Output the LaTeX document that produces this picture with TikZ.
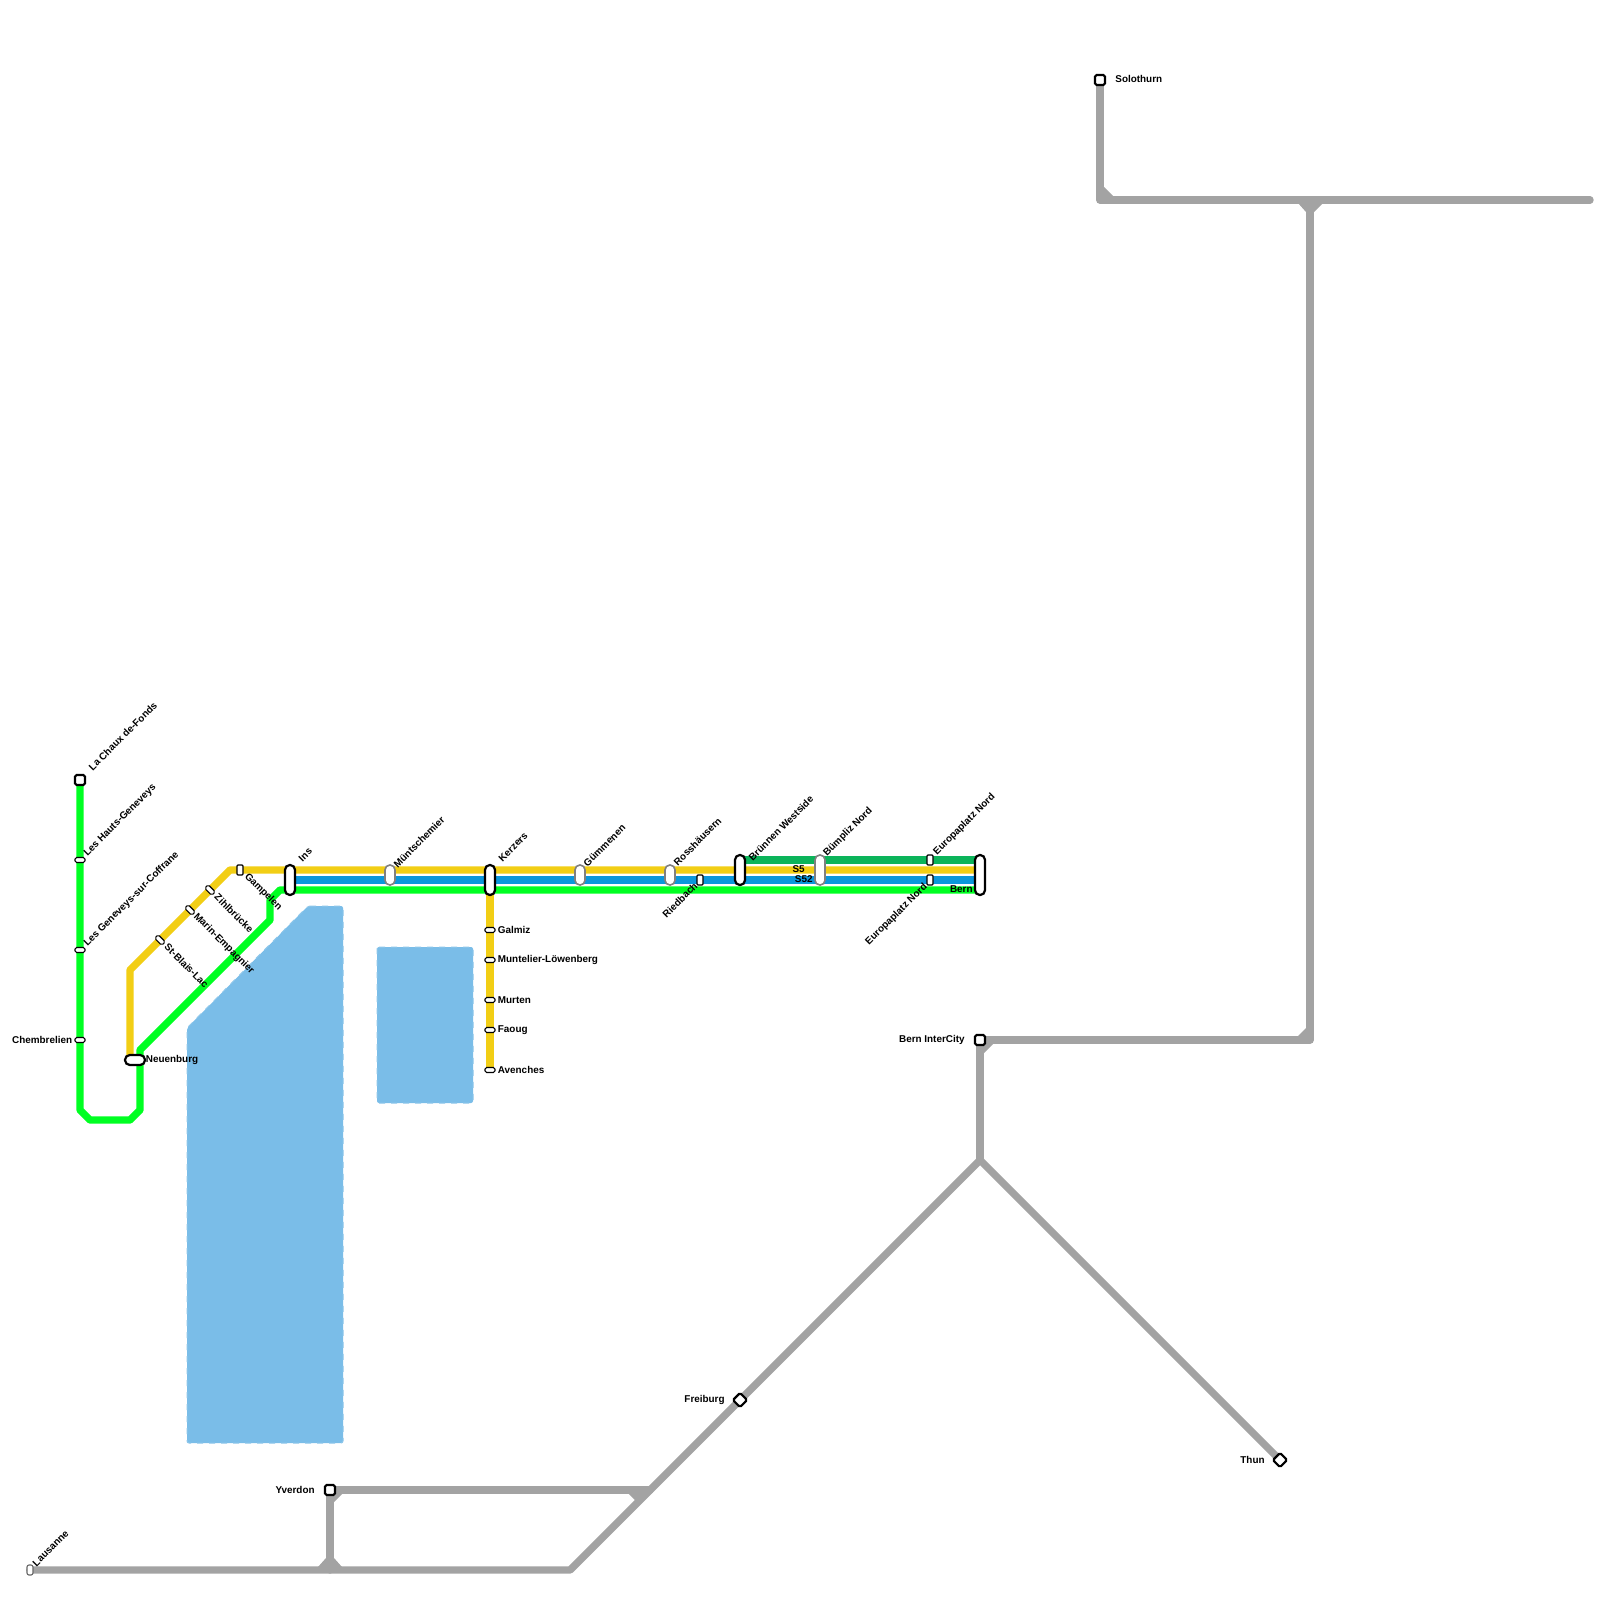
\documentclass[tikz,border=0pt]{standalone}
\usepackage{fontspec}
\setmainfont{Liberation Sans}
\begin{document}
\begin{tikzpicture}[x=0.5pt,y=-0.5pt,
  track/.style={line width=3.7pt,line join=bevel},
  greenline/.style={track,draw=lgreen},
  yellowline/.style={track,draw=lyellow},
  blueline/.style={track,draw=lblue},
  dgreenline/.style={track,draw=ldgreen},
  greyline/.style={track,draw=lgrey,line cap=round,line join=round},
  fillet/.style={fill=lgrey,draw=none},
  water/.style={fill=lake,draw=lake!85!white,line width=0.5pt,dash pattern=on 3pt off 3pt,rounded corners=1pt},
  sta/.style={draw=black,fill=white,inner sep=0pt,outer sep=0pt,line width=#1},
  sta/.default=1.1pt,
  term/.style={sta,minimum width=5pt,minimum height=5pt,rounded corners=0.8pt},
  small/.style={sta=0.55pt,minimum width=5pt,minimum height=2.5pt,rounded corners=0.8pt},
  tallsmall/.style={sta=0.55pt,minimum width=3pt,minimum height=5pt,rounded corners=0.5pt},
  angsmall/.style={small,rotate=-45},
  pilla/.style={sta,minimum width=5pt,minimum height=15pt,rounded corners=2.4pt},
  pillb/.style={sta=0.8pt,draw=black!50,minimum width=5pt,minimum height=10pt,rounded corners=2.4pt},
  diam/.style={sta,minimum width=5pt,minimum height=5pt,rounded corners=0.7pt,rotate=45},
  lab/.style={font=\fontsize{4.95}{6}\selectfont\bfseries,inner sep=0pt,text=black},
  ur/.style={lab,rotate=45,anchor=west},
  dr/.style={lab,rotate=-45,anchor=west},
  ul/.style={lab,rotate=45,anchor=east},
  le/.style={lab,anchor=east},
  ri/.style={lab,anchor=west}]
\definecolor{lgreen}{HTML}{00FF22}
\definecolor{lyellow}{HTML}{F2CE15}
\definecolor{lblue}{HTML}{0A97DB}
\definecolor{ldgreen}{HTML}{0BB45A}
\definecolor{lgrey}{HTML}{A3A3A3}
\definecolor{lake}{HTML}{7ABDE8}
\useasboundingbox (0,0) rectangle (1600,1600);
\fill[white] (0,0) rectangle (1600,1600);
% lakes
\draw[water] (308,906) -- (343,906) -- (343,1443) -- (187,1443) -- (187,1028) -- cycle;
\draw[water] (377,947) -- (473,947) -- (473,1103) -- (377,1103) -- cycle;
% bends and junctions
\coordinate (jA) at (570,1570);
\coordinate (jB) at (980,1160);
\coordinate (jC) at (650,1490);
\coordinate (jD) at (330,1570);
\coordinate (jE) at (1310,1040);
\coordinate (jF) at (1310,200);
\coordinate (jG) at (1100,200);
\coordinate (jH) at (1590,200);
\coordinate (pA) at (130,970);
\coordinate (pB) at (230,870);
\coordinate (pC) at (80,1110);
\coordinate (pD) at (90,1120);
\coordinate (pE) at (130,1120);
\coordinate (pF) at (140,1110);
\coordinate (pG) at (140,1050);
\coordinate (pH) at (270,920);
\coordinate (pI) at (270,900);
\coordinate (pJ) at (280,890);
\coordinate (eN) at (130,1060);
\coordinate (gA) at (290,890);
\coordinate (gB) at (980,890);
\coordinate (yA) at (980,870);
\coordinate (bA) at (290,880);
\coordinate (bB) at (980,880);
\coordinate (dA) at (740,860);
\coordinate (dB) at (980,860);
\coordinate (yD) at (490,880);
\coordinate (aven0) at (490,1070);
\coordinate (chaux0) at (80,780);
\coordinate (laus0) at (30,1570);
\coordinate (thun0) at (1280,1460);
\coordinate (bic0) at (980,1040);
\coordinate (yver0) at (330,1490);
\coordinate (solo0) at (1100,80);
% tracks
\draw[greenline] (chaux0) -- (pC) -- (pD) -- (pE) -- (pF) -- (pG) -- (pH) -- (pI) -- (pJ) -- (gA) -- (gB);
\draw[yellowline] (eN) -- (pA) -- (pB) -- (yA);
\draw[blueline] (bA) -- (bB);
\draw[dgreenline] (dA) -- (dB);
\draw[yellowline] (yD) -- (aven0);
\draw[greyline] (laus0) -- (jA) -- (jB) -- (thun0);
\draw[greyline] (jB) -- (bic0) -- (jE) -- (jF);
\draw[greyline] (yver0) -- (jD);
\draw[greyline] (yver0) -- (jC);
\draw[greyline] (solo0) -- (jG) -- (jH);
% fillets
\fill[fillet] (318,1567) -- (326,1558) -- (334,1558) -- (342,1567) -- cycle;
\fill[fillet] (334,1494) -- (342,1494) -- (334,1502) -- cycle;
\fill[fillet] (628,1493) -- (636,1501) -- (650,1488) -- cycle;
\fill[fillet] (1104,187) -- (1113,196) -- (1104,197) -- cycle;
\fill[fillet] (1298,203) -- (1306,212) -- (1314,212) -- (1323,203) -- cycle;
\fill[fillet] (984,1044) -- (993,1044) -- (984,1053) -- cycle;
\fill[fillet] (1297,1037) -- (1306,1028) -- (1306,1037) -- cycle;
% stations
\path
 (80,780) node[term] (chaux) {}
 (80,860) node[small] (hauts) {}
 (80,950) node[small] (gene) {}
 (80,1040) node[small] (chem) {}
 (135,1060) node[sta,minimum width=10pt,minimum height=5pt,rounded corners=2.4pt] (neu) {}
 (160,940) node[angsmall] (blaise) {}
 (190,910) node[angsmall] (marin) {}
 (210,890) node[angsmall] (zihl) {}
 (240,870) node[tallsmall] (gamp) {}
 (290,880) node[pilla] (ins) {}
 (390,875) node[pillb] (munt) {}
 (490,880) node[pilla] (kerz) {}
 (580,875) node[pillb] (gumm) {}
 (670,875) node[pillb] (ross) {}
 (700,880) node[tallsmall] (ried) {}
 (740,870) node[pilla] (brun) {}
 (820,870) node[pillb,minimum height=15pt] (bump) {}
 (930,860) node[tallsmall] (euA) {}
 (930,880) node[tallsmall] (euB) {}
 (980,875) node[pilla,minimum height=20pt] (bern) {}
 (490,930) node[small] (galm) {}
 (490,960) node[small] (mlb) {}
 (490,1000) node[small] (murt) {}
 (490,1030) node[small] (faoug) {}
 (490,1070) node[small] (aven) {}
 (30,1570) node[sta=0.55pt,draw=black!60,minimum width=3pt,minimum height=5pt,rounded corners=1pt] (laus) {}
 (330,1490) node[term] (yver) {}
 (740,1400) node[diam] (frei) {}
 (1280,1460) node[diam] (thun) {}
 (980,1040) node[term] (bic) {}
 (1100,80) node[term] (solo) {};
% labels
\node[ur] (tChaux) at (90,769) {La Chaux de-Fonds};
\node[ur] (tHauts) at (85.5,855) {Les Hauts-Geneveys};
\node[ur] (tGene) at (85.5,945) {Les Geneveys-sur-Coffrane};
\node[le] (tChem) at (72.5,1040) {Chembrelien};
\node[ri] (tNeu) at (145.5,1060) {Neuenburg};
\node[dr] (tBlaise) at (166,945) {St-Blais-Lac};
\node[dr] (tMarin) at (195,915) {Marin-Empagnier};
\node[dr] (tZihl) at (216,895) {Zihlbrücke};
\node[dr] (tGamp) at (246,875) {Gampelen};
\node[ur] (tIns) at (300,860) {Ins};
\node[ur] (tMunt) at (395,866) {Müntschemier};
\node[ur] (tKerz) at (500,860) {Kerzers};
\node[ur] (tGumm) at (585,865) {Gümmenen};
\node[ur] (tRoss) at (675,864) {Rosshäusern};
\node[ul] (tRied) at (696,884) {Riedbach};
\node[ur] (tBrun) at (750,859) {Brünnen Westside};
\node[ur] (tBump) at (825,855) {Bümpliz Nord};
\node[ur] (tEuA) at (935,854) {Europaplatz Nord};
\node[ul] (tEuB) at (926,885) {Europaplatz Nord};
\node[le] (tBern) at (973,889.5) {Bern};
\node[le] (tSf) at (805,869.5) {S5};
\node[le] (tSft) at (813,879.5) {S52};
\node[ri] (tGalm) at (497.5,930) {Galmiz};
\node[ri] (tMlb) at (497.5,960) {Muntelier-Löwenberg};
\node[ri] (tMurt) at (497.5,1000) {Murten};
\node[ri] (tFaoug) at (497.5,1030) {Faoug};
\node[ri] (tAven) at (497.5,1070) {Avenches};
\node[ur] (tLaus) at (34,1565) {Lausanne};
\node[le] (tYver) at (315,1490) {Yverdon};
\node[le] (tFrei) at (725,1400) {Freiburg};
\node[le] (tThun) at (1265,1460) {Thun};
\node[le] (tBic) at (965,1040) {Bern InterCity};
\node[ri] (tSolo) at (1115,79) {Solothurn};
\end{tikzpicture}
\end{document}
